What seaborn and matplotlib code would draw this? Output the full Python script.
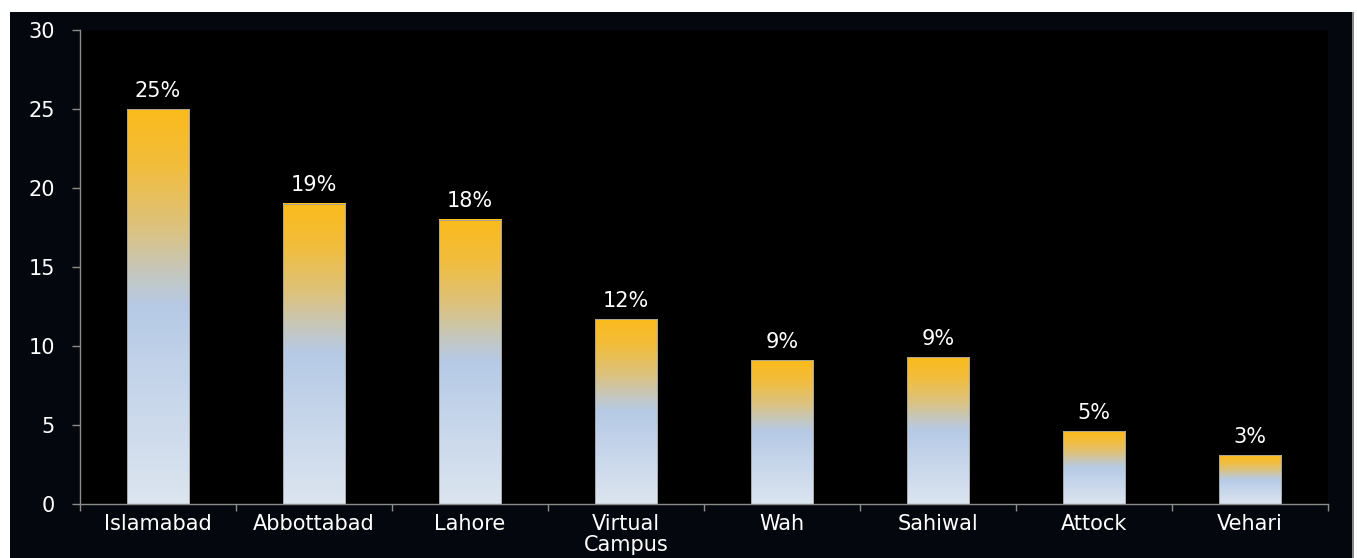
import numpy as np
import pandas as pd
import matplotlib
matplotlib.use("Agg")
import matplotlib.pyplot as plt
import seaborn as sns
from matplotlib.colors import LinearSegmentedColormap
from matplotlib.patches import Rectangle
from matplotlib.ticker import FixedLocator

# data
cities = ["Islamabad", "Abbottabad", "Lahore", "Virtual\nCampus", "Wah", "Sahiwal", "Attock", "Vehari"]
shares = [25, 19, 18, 11.7, 9.1, 9.3, 4.6, 3.1]
share_labels = ["25%", "19%", "18%", "12%", "9%", "9%", "5%", "3%"]

df = pd.DataFrame({"campus": cities, "share": shares})

sns.set_style("dark")
plt.rcParams["font.family"] = ["DejaVu Sans"]
FS = 15

W, H = 1357, 558
fig = plt.figure(figsize=(W / 100, H / 100), dpi=100, facecolor="white")

# dark navy frame behind the plot
fig.patches.append(Rectangle((10 / W, 0), (1352 - 10) / W, (H - 12) / H,
                             transform=fig.transFigure, facecolor="#05070f",
                             edgecolor="none", zorder=-2))
fig.patches.append(Rectangle((1352 / W, 0), 2 / W, (H - 12) / H,
                             transform=fig.transFigure, facecolor="#8a8a8a",
                             edgecolor="none", zorder=-2))

ax = fig.add_axes([80 / W, (H - 504) / H, (1328 - 80) / W, (504 - 30) / H])
ax.set_facecolor("black")

sns.barplot(data=df, x="campus", y="share", width=0.4, color="#f8bc2a", ax=ax)

# vertical gradient inside each bar: pale blue at the base, orange on top
grad_cmap = LinearSegmentedColormap.from_list("bar_grad", [
    (0.0, "#dce5f0"),
    (0.50, "#b6cae6"),
    (0.57, "#c2c8c6"),
    (0.70, "#dcc27e"),
    (0.86, "#f2bd3c"),
    (1.0, "#fbbb1c"),
])
grad = np.linspace(0, 1, 256).reshape(-1, 1)

for patch, lab in zip(ax.patches, share_labels):
    x, w, h = patch.get_x(), patch.get_width(), patch.get_height()
    ax.imshow(grad, extent=[x, x + w, 0, h], origin="lower", aspect="auto",
              cmap=grad_cmap, zorder=2, interpolation="bicubic")
    patch.set_facecolor("none")
    patch.set_edgecolor("#a0a0a0")
    patch.set_linewidth(0.6)
    patch.set_zorder(3)
    ax.annotate(lab, (x + w / 2, h), xytext=(0, 6), textcoords="offset points",
                ha="center", va="bottom", color="white", fontsize=FS)

ax.set_xlim(-0.5, len(cities) - 0.5)
ax.set_ylim(0, 30)
ax.set_yticks(range(0, 31, 5))
ax.set_xlabel("")
ax.set_ylabel("")
ax.grid(False)

for side in ["top", "right"]:
    ax.spines[side].set_visible(False)
for side in ["left", "bottom"]:
    ax.spines[side].set_visible(True)
    ax.spines[side].set_color("#8c8c8c")
    ax.spines[side].set_linewidth(1.0)

ax.tick_params(axis="y", colors="#8c8c8c", labelcolor="white", labelsize=FS,
               length=6, width=1, pad=12, direction="out", left=True)
ax.tick_params(axis="x", which="major", length=0, labelcolor="white",
               labelsize=FS, pad=7)
ax.xaxis.set_minor_locator(FixedLocator(np.arange(-0.5, len(cities), 1.0)))
ax.tick_params(axis="x", which="minor", colors="#8c8c8c", length=5, width=1,
               direction="out", bottom=True)
for t in ax.get_xticklabels():
    t.set_linespacing(1.05)

fig.savefig("out.png", dpi=100, facecolor=fig.get_facecolor())
